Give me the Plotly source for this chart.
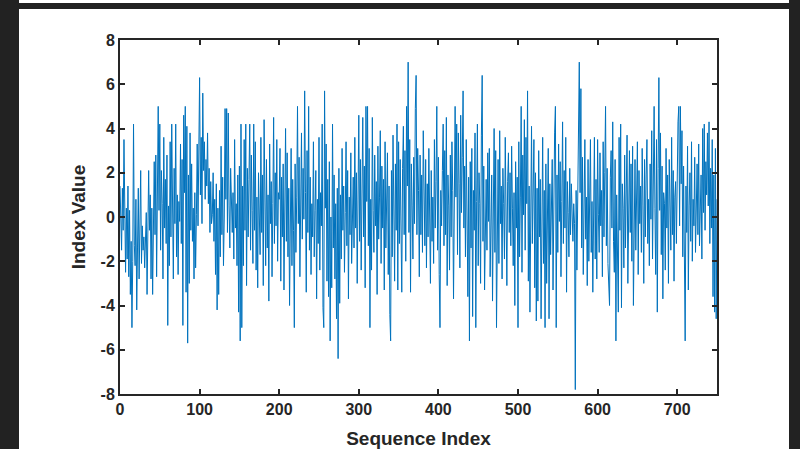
import plotly.graph_objects as go

values = [
    1.4, 0.2, -1.5, 1.3, -0.6, 3.5, -1.2, -2.5, 0.4, -1.9, 1.4, -2.7, 0.3, -3.5, -1.1, -5.0, -2.0, 4.2, -1.3, -2.2, 0.8, -4.2, -1.4, 1.3, -2.8,
    -1.0, 2.1, -2.1, -0.4, -1.5, -0.9, -2.3, -1.4, 0.2, -3.5, -1.2, 2.1, -0.6, 1.0, -2.8, 0.4, -3.5, -1.0, 2.5, -0.8, 2.8, -2.7, 1.2, 5.0, 0.3,
    4.2, -1.5, 2.1, 0.6, -2.8, 3.6, -0.5, 1.7, -1.2, 2.8, -4.9, 0.5, -2.2, 3.4, -0.9, 4.2, 1.0, -2.8, 2.2, -0.3, 4.2, -1.8, 1.0, -2.6, 0.7,
    -0.2, 3.3, -1.2, 2.6, -4.9, 4.6, 1.1, 5.0, -3.4, 4.1, -5.7, 1.9, -3.0, 3.8, -0.6, 2.4, -1.1, 0.4, -2.8, 1.1, -2.3, 0.1, 3.3, -0.4, 2.4,
    6.3, 1.0, 3.6, -0.3, 5.6, 2.1, 3.4, 0.8, 2.6, 1.4, 3.8, 0.6, 2.2, -0.7, 1.6, -0.3, 0.1, 2.0, -1.1, 0.8, -2.6, 1.5, -4.2, 0.4, -3.5,
    1.2, -1.8, 3.2, -0.8, 1.8, -2.2, 0.0, 4.9, 0.8, 4.9, -0.7, 4.7, 0.5, -1.4, 2.2, 0.0, -0.7, 1.1, -1.9, 3.5, -0.5, 0.6, -2.2, 1.9, -4.3,
    2.3, -5.6, 4.2, -5.0, 1.4, -2.2, 3.5, -0.6, 4.2, -3.1, 2.2, -0.9, 1.7, 4.2, -1.5, 2.8, 0.3, -2.1, 4.2, -0.6, 3.4, -2.4, 0.9, -3.2, 2.0,
    0.4, -1.7, 3.6, -0.7, 1.9, -3.1, 4.4, 0.0, -2.2, 2.6, -1.4, 1.0, -3.8, 3.3, -0.3, 1.6, -2.7, 0.6, 4.5, -1.2, 2.0, -0.4, 3.5, -2.0, 1.1,
    0.8, 3.1, -2.9, 1.8, -0.9, 2.4, -3.3, 0.5, 4.0, -1.1, 2.9, -1.8, 1.3, -4.0, 0.2, 3.1, -2.2, 1.7, -0.6, -5.0, 2.4, -1.6, 0.9, 5.0, -0.3,
    2.7, -2.7, 1.4, 3.8, -1.0, 2.2, -0.1, 5.7, 1.1, -3.4, 3.0, -0.7, 5.0, -1.5, 1.8, -2.6, 0.6, -0.9, 3.4, -1.8, 0.3, 2.1, -3.7, 0.8, -1.2,
    3.6, -2.4, 1.1, -0.4, 4.2, -4.1, -5.0, 5.7, 0.4, 3.3, -2.9, 1.7, -3.6, 2.5, -5.6, 0.0, -3.2, 4.2, -1.4, 1.9, -2.8, 0.6, -4.6, 1.3, -6.4,
    2.2, -3.9, 1.0, -1.9, 3.1, -0.6, 1.4, -2.5, 0.2, 3.4, -1.3, 2.1, -3.7, 0.9, -0.8, 2.9, -2.1, 0.5, 1.8, -1.4, 3.6, -0.5, 2.0, -3.0, 0.7,
    4.6, -1.1, 2.6, -2.4, 1.3, 4.5, -0.9, 2.3, -3.2, 5.0, 0.7, 5.0, -1.3, 3.1, -5.0, 0.8, -2.4, 4.5, 0.3, -1.6, 2.8, -0.4, 1.6, -3.5, 3.2,
    -1.0, 0.9, 3.9, -2.1, 2.3, -0.5, 1.7, -3.3, 3.4, -1.4, 0.4, 2.9, -2.6, 1.4, -4.4, -5.6, 2.1, -1.8, 3.7, 0.1, -2.9, 2.4, -0.6, 4.2, -3.3,
    3.4, -1.2, 2.6, 0.3, -3.4, 2.2, 4.1, -0.8, 3.0, -2.0, 5.0, 1.4, 7.0, -0.7, 3.5, -3.4, 2.4, 0.5, -1.9, 2.7, -0.3, 4.9, 6.4, -0.8, 3.1,
    1.2, -2.7, 2.8, -0.8, 1.9, -1.6, 3.9, 0.4, -1.3, 2.6, -2.3, 1.5, -0.9, 3.1, 0.2, -3.0, 2.1, -1.1, 0.9, -2.1, 3.5, -0.5, 1.6, 5.0, -1.5,
    2.7, -2.6, -5.0, 1.2, -0.4, 2.1, 4.2, -1.3, 3.0, -0.8, 4.5, -3.1, 1.9, 0.5, -2.4, 2.8, -0.9, 3.4, 1.2, -3.7, 4.3, 5.0, 0.9, 4.2, -1.7,
    3.8, 1.5, -2.3, 4.6, 0.2, 2.7, 5.7, -0.5, 2.3, -1.8, 3.5, 0.0, -3.6, 1.8, -5.6, 2.5, -1.4, 3.1, -4.5, 1.2, -0.6, 3.8, -5.0, 0.7, 4.2,
    -2.2, 2.0, 0.6, -3.0, 3.7, 6.4, -1.1, 2.3, -3.3, 0.5, 1.7, -1.5, 2.9, -0.2, 3.1, -2.7, 0.8, 1.9, -3.8, 2.4, 4.0, -1.6, 3.0, -5.0, 1.1,
    2.6, -2.1, 3.9, -0.3, 1.4, -2.8, 2.2, 0.6, -1.9, 3.6, 0.1, -3.1, 1.6, 2.9, -0.7, 2.0, -1.3, 3.2, 0.4, -2.2, 1.1, -4.0, 2.5, -0.5, 1.8,
    -5.0, 3.4, -1.8, 0.9, 5.0, -2.5, 2.8, 0.1, 4.4, -1.5, 3.6, 0.6, 5.7, -2.9, 1.4, -4.3, 2.7, 4.1, -1.2, 0.6, 3.5, -3.2, 2.0, -4.7, 1.3,
    -3.8, 3.0, -0.9, 1.7, -4.6, 0.8, 3.6, -2.1, 1.2, -5.0, 2.4, -3.0, -0.4, 3.1, -4.6, 1.5, -1.7, 0.4, 2.6, -3.3, 1.0, 3.8, 5.0, -5.0, 1.9,
    -1.6, 3.3, -0.2, 2.5, -2.7, 0.7, 4.3, -1.2, 2.1, -0.5, 3.6, -3.4, 1.6, 0.2, -1.8, 2.2, -0.8, 1.5, 0.4, -1.1, 0.6, -0.3, -7.8, 1.2, -2.4,
    0.8, 3.6, 7.0, 1.1, 5.8, -1.4, 2.7, -2.6, 1.9, 3.5, -1.0, 0.9, -3.1, 2.6, -2.0, 1.3, 3.5, -1.6, 0.7, -3.4, 2.3, 3.6, -1.9, 1.7, -2.8,
    3.5, 0.1, -1.6, 2.9, -0.4, 1.2, -2.7, 3.4, -0.9, 2.0, 5.0, -1.3, 2.2, -2.1, -3.8, -4.0, 1.8, 3.0, -0.5, 4.3, -1.1, -2.5, 2.6, -5.6, 1.0,
    -2.9, -4.3, 3.6, -0.6, 4.2, -4.1, 1.5, 0.4, -2.3, 2.8, -1.4, 0.9, 3.7, -3.0, 1.2, 3.0, -0.7, 2.4, -2.0, 3.2, -4.0, 1.0, 2.6, -1.5, 0.3,
    3.4, -2.6, 2.1, -0.3, 1.4, -1.6, 3.1, 0.5, -3.0, 2.6, -0.9, 1.9, 3.5, -1.2, 0.8, -2.2, 2.4, -0.1, 3.9, -1.9, 1.6, 5.0, 0.4, -2.6, 3.5,
    -4.3, 2.2, 6.3, 0.3, 3.8, -1.7, 2.3, -3.7, 1.1, 0.6, -2.4, 3.1, -0.5, 1.9, -3.0, 2.6, 0.3, -1.5, 3.6, -0.8, 2.1, -2.9, 0.9, 1.6, -1.2,
    3.4, 4.3, 5.0, -0.4, 5.0, 1.5, 3.9, -1.8, 2.3, -2.6, -5.6, 1.4, -0.7, 3.2, -3.3, 0.5, 2.0, -1.1, 3.4, -2.0, 0.8, -0.4, 2.7, -1.6, 1.2,
    2.4, -0.8, 3.3, -1.3, 0.4, 1.9, -1.9, 4.0, 0.2, 4.2, -0.6, 2.5, 1.0, 3.8, 0.5, 4.3, -1.2, 2.2, -0.5, 3.5, -3.6, 1.9, -4.3, 3.1, -4.6, 0.8,
]
seq_index = list(range(len(values)))

x_ticks = [0, 100, 200, 300, 400, 500, 600, 700]
x_tick_labels = ["0", "100", "200", "300", "400", "500", "600", "700"]
y_ticks = [-8, -6, -4, -2, 0, 2, 4, 6, 8]
y_tick_labels = ["-8", "-6", "-4", "-2", "0", "2", "4", "6", "8"]
x_title = "Sequence Index"
y_title = "Index Value"

W, H = 800, 449
L, R, T, B = 120, 83, 40, 55
pw, ph = W - L - R, H - T - B

def px2x(p):
    return (p - L) / pw

def py2y(p):
    return (H - B - p) / ph

FONT = "Liberation Sans, Arial, sans-serif"

fig = go.Figure()
fig.add_trace(go.Scatter(
    x=seq_index, y=values, mode="lines",
    line=dict(color="#0072BD", width=1),
    hoverinfo="skip", showlegend=False,
))

axis_common = dict(
    showline=True, linecolor="#262626", linewidth=2, mirror="ticks",
    ticks="inside", ticklen=5, tickwidth=2, tickcolor="#262626",
    showgrid=False, zeroline=False, automargin=False,
    tickfont=dict(family=FONT, size=16, color="#262626", weight="bold"),
)

fig.update_xaxes(range=[0, 750], tickvals=x_ticks, ticktext=x_tick_labels, **axis_common,
                 title=dict(text=x_title, standoff=14,
                            font=dict(family=FONT, size=19, color="#262626", weight="bold")))
fig.update_yaxes(range=[-8, 8], tickvals=y_ticks, ticktext=y_tick_labels, **axis_common,
                 title=dict(text=y_title, standoff=10,
                            font=dict(family=FONT, size=19, color="#262626", weight="bold")))

shapes = [
    dict(type="rect", xref="paper", yref="paper", layer="below",
         x0=px2x(19), x1=px2x(789), y0=py2y(460), y1=py2y(9),
         fillcolor="white", line=dict(width=0)),
    dict(type="rect", xref="paper", yref="paper", layer="below",
         x0=px2x(19), x1=px2x(789), y0=py2y(3), y1=py2y(-2),
         fillcolor="white", line=dict(width=0)),
]

fig.update_layout(
    width=W, height=H,
    margin=dict(l=L, r=R, t=T, b=B),
    paper_bgcolor="#222222", plot_bgcolor="white",
    shapes=shapes,
)

fig.write_html("out.html")
